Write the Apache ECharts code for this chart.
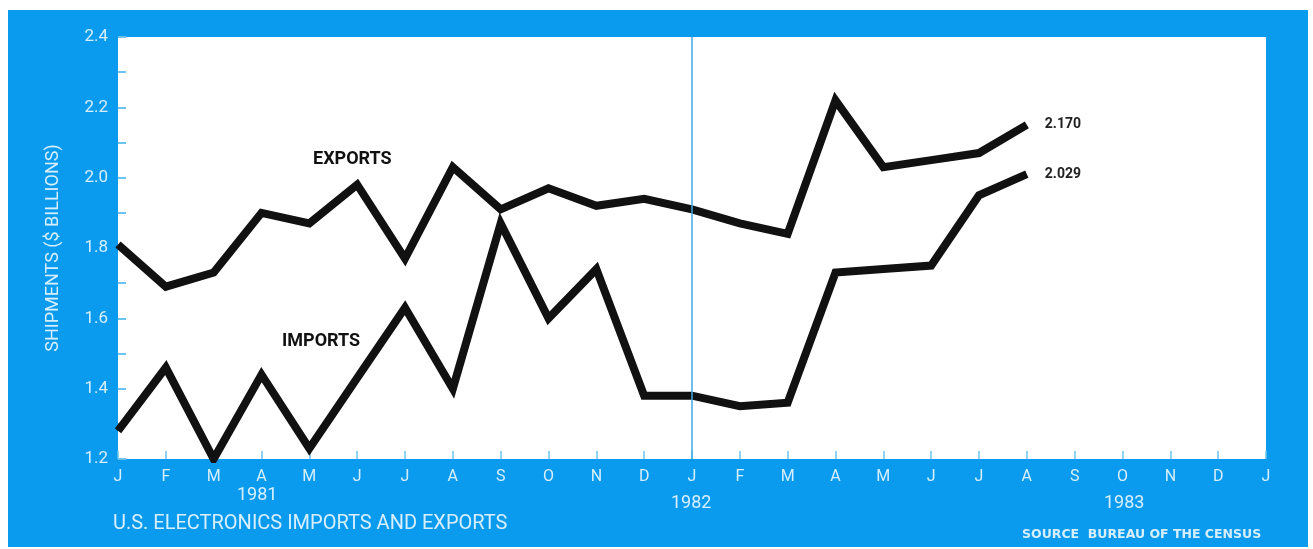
<!DOCTYPE html>
<html>
<head>
<meta charset="utf-8">
<script src="https://cdn.jsdelivr.net/npm/echarts@6/dist/echarts.min.js"></script>
<style>
  html, body { margin: 0; padding: 0; background: #ffffff; }
  #chart { position: absolute; left: 8px; top: 10px; width: 1300px; height: 537px; }
</style>
</head>
<body>
<div id="chart"></div>
<script>
// Monthly US electronics shipments, Jan 1981 .. Jan 1983 ($ billions)
var months = ['J','F','M','A','M','J','J','A','S','O','N','D',
              'J','F','M','A','M','J','J','A','S','O','N','D','J'];
var exportsData = [1.81, 1.69, 1.73, 1.90, 1.87, 1.98, 1.77, 2.03, 1.91, 1.97, 1.92, 1.94,
                   1.91, 1.87, 1.84, 2.22, 2.03, 2.05, 2.07, 2.15];
var importsData = [1.28, 1.46, 1.20, 1.44, 1.23, 1.43, 1.63, 1.40, 1.87, 1.60, 1.74, 1.38,
                   1.38, 1.35, 1.36, 1.73, 1.74, 1.75, 1.95, 2.01];
var yTicks = [1.2, 1.4, 1.6, 1.8, 2.0, 2.2, 2.4];
var exportsEnd = '2.170';
var importsEnd = '2.029';

var BLUE = '#0a9aee';
var PALE = '#d6efff';
var FONT = 'Roboto, "Liberation Sans", sans-serif';

var chart = echarts.init(document.getElementById('chart'), null, { renderer: 'canvas' });

function lineSeries(name, data, endText) {
    return {
        name: name,
        type: 'line',
        data: data,
        showSymbol: false,
        symbol: 'none',
        lineStyle: { color: '#111111', width: 8, join: 'miter' },
        endLabel: {
            show: true,
            formatter: function() { return endText; },
            distance: 18,
            color: '#222222',
            fontFamily: FONT,
            fontSize: 14,
            fontWeight: 'bold'
        }
    };
}

var exportsSeries = lineSeries('EXPORTS', exportsData, exportsEnd);
// Jan 1982 divider line
exportsSeries.markLine = {
    silent: true,
    symbol: 'none',
    label: { show: false },
    lineStyle: { color: '#3ea9e6', width: 1.5, type: 'solid' },
    data: [{ xAxis: 12 }]
};

chart.setOption({
    animation: false,
    backgroundColor: BLUE,
    grid: {
        left: 110, top: 27, right: 42, bottom: 88,
        show: true, backgroundColor: '#ffffff', borderWidth: 0
    },
    xAxis: {
        type: 'category',
        data: months,
        boundaryGap: false,
        axisLine: { show: false },
        axisTick: { show: true, inside: true, length: 8, lineStyle: { color: '#6cc3f0', width: 1.5 } },
        axisLabel: { color: PALE, fontFamily: FONT, fontSize: 16, margin: 10, interval: 0 },
        splitLine: { show: false }
    },
    yAxis: {
        type: 'value',
        min: 1.2,
        max: 2.4,
        interval: 0.2,
        name: 'SHIPMENTS ($ BILLIONS)',
        nameLocation: 'middle',
        nameRotate: 90,
        nameGap: 56,
        nameTextStyle: { color: PALE, fontFamily: FONT, fontSize: 18 },
        axisLine: { show: false },
        axisTick: { show: true, inside: true, length: 8, lineStyle: { color: '#6cc3f0', width: 2 } },
        minorTick: { show: true, splitNumber: 2, length: 8, lineStyle: { color: '#6cc3f0', width: 2 } },
        axisLabel: {
            color: PALE, fontFamily: FONT, fontSize: 17, margin: 10,
            formatter: function(v) { return v.toFixed(1); }
        },
        splitLine: { show: false }
    },
    series: [
        exportsSeries,
        lineSeries('IMPORTS', importsData, importsEnd)
    ],
    graphic: [
        { type: 'text', left: 305, top: 140, style: { text: 'EXPORTS', fill: '#111', font: 'bold 18px ' + FONT } },
        { type: 'text', left: 274, top: 322, style: { text: 'IMPORTS', fill: '#111', font: 'bold 18px ' + FONT } },
        { type: 'text', left: 229, top: 476, style: { text: '1981', fill: PALE, font: '18px ' + FONT } },
        { type: 'text', left: 663, top: 484, style: { text: '1982', fill: PALE, font: '18px ' + FONT } },
        { type: 'text', left: 1096, top: 484, style: { text: '1983', fill: PALE, font: '18px ' + FONT } },
        { type: 'text', left: 105, top: 504, style: { text: 'U.S. ELECTRONICS IMPORTS AND EXPORTS', fill: PALE, font: '20px ' + FONT } },
        { type: 'text', left: 1014, top: 518, style: { text: 'SOURCE  BUREAU OF THE CENSUS', fill: PALE, font: 'bold 12.5px "DejaVu Sans", sans-serif' } }
    ]
});
</script>
</body>
</html>
